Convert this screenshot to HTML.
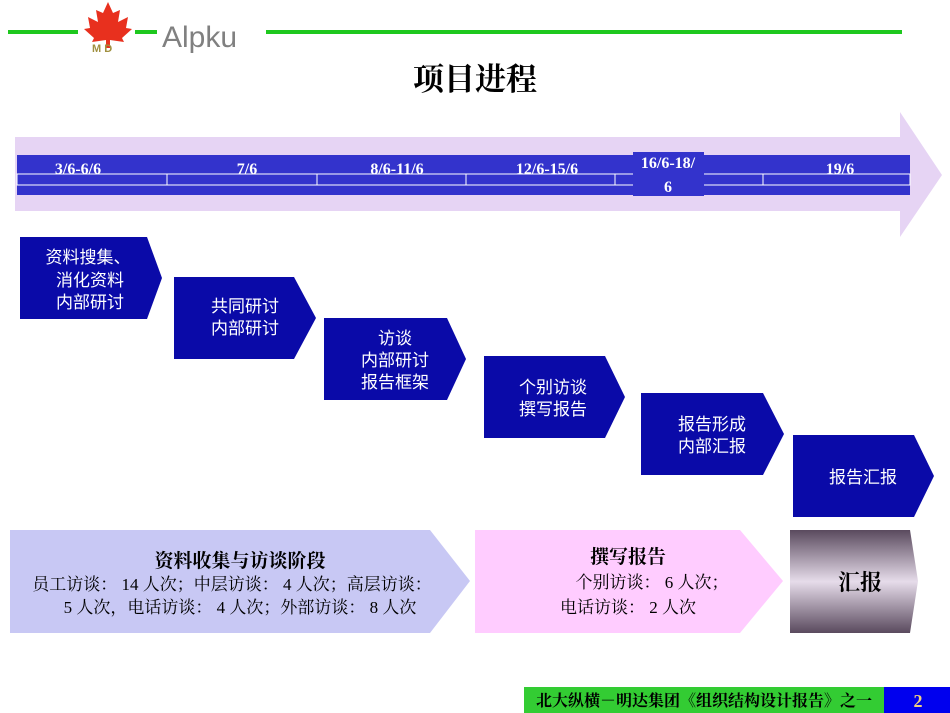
<!DOCTYPE html>
<html><head><meta charset="utf-8"><style>
body{margin:0;background:#fff;}
svg{display:block;font-family:"Liberation Sans","Noto Sans CJK SC",sans-serif;}
</style></head><body>
<svg width="950" height="713" viewBox="0 0 950 713" xmlns="http://www.w3.org/2000/svg">
<defs>
<linearGradient id="g" x1="0" y1="0" x2="0" y2="1">
<stop offset="0" stop-color="#5a4a5e"/><stop offset="0.5" stop-color="#e6dcea"/><stop offset="1" stop-color="#5a4a5e"/>
</linearGradient>
</defs>
<!-- header -->
<rect x="8" y="30" width="70" height="4" fill="#1ec81e"/>
<rect x="135" y="30" width="22" height="4" fill="#1ec81e"/>
<rect x="266" y="30" width="636" height="4" fill="#1ec81e"/>
<polygon points="108,2 113,13 120,10 118,22 128,17 126,28 132,29 122,38 124,42 110,40 110,48 106,48 106,40 92,42 94,38 84,29 90,28 88,17 98,22 96,10 103,13" fill="#e8301e"/>
<text x="92" y="52" font-size="11" fill="#a09040" font-weight="bold">M D</text>
<text x="162" y="47" font-size="30" fill="#808080">Alpku</text>
<text x="475" y="90" font-size="31" text-anchor="middle" font-weight="bold" fill="#000" font-family="Liberation Serif,'Noto Serif CJK SC',serif">项目进程</text>
<!-- timeline arrow -->
<polygon points="15,137 900,137 900,112 942,175 900,237 900,211 15,211" fill="#e6d4f4"/>
<rect x="17" y="155" width="893" height="40" fill="#3333cc"/>
<rect x="17" y="174" width="893" height="11" fill="#3333cc" stroke="#fff" stroke-width="1"/>
<g stroke="#fff" stroke-width="1">
<line x1="167" y1="174" x2="167" y2="185"/><line x1="317" y1="174" x2="317" y2="185"/>
<line x1="466" y1="174" x2="466" y2="185"/><line x1="615" y1="174" x2="615" y2="185"/>
<line x1="763" y1="174" x2="763" y2="185"/>
</g>
<rect x="633" y="152" width="71" height="44" fill="#3333cc"/>
<g fill="#fff" font-family="Liberation Serif,serif" font-weight="bold" font-size="16" text-anchor="middle">
<text x="78" y="174">3/6-6/6</text><text x="247" y="174">7/6</text>
<text x="397" y="174">8/6-11/6</text><text x="547" y="174">12/6-15/6</text>
<text x="668" y="168">16/6-18/</text><text x="668" y="192">6</text>
<text x="840" y="174">19/6</text>
</g>
<!-- chevrons -->
<g fill="#0a0aa8">
<polygon points="20,237 147,237 162,278 147,319 20,319"/>
<polygon points="174,277 294,277 316,318 294,359 174,359"/>
<polygon points="324,318 447,318 466,359 447,400 324,400"/>
<polygon points="484,356 605,356 625,397 605,438 484,438"/>
<polygon points="641,393 763,393 784,434 763,475 641,475"/>
<polygon points="793,435 914,435 934,476 914,517 793,517"/>
</g>
<g fill="#fff" font-size="17" text-anchor="middle">
<text x="88" y="263">资料搜集、</text><text x="90" y="286">消化资料</text><text x="90" y="308">内部研讨</text>
<text x="245" y="312">共同研讨</text><text x="245" y="334">内部研讨</text>
<text x="395" y="344">访谈</text><text x="395" y="366">内部研讨</text><text x="395" y="388">报告框架</text>
<text x="553" y="393">个别访谈</text><text x="553" y="415">撰写报告</text>
<text x="712" y="430">报告形成</text><text x="712" y="452">内部汇报</text>
<text x="863" y="483">报告汇报</text>
</g>
<!-- phases -->
<polygon points="10,530 430,530 470,581 430,633 10,633" fill="#c8c8f4"/>
<polygon points="475,530 740,530 783,581 740,633 475,633" fill="#ffccff"/>
<polygon points="790,530 910,530 918,581 910,633 790,633" fill="url(#g)"/>
<g font-family="Liberation Serif,'Noto Serif CJK SC',serif" fill="#000" text-anchor="middle">
<text x="240" y="567" font-size="19" font-weight="bold">资料收集与访谈阶段</text>
<text x="232" y="590" font-size="17">员工访谈： 14 人次；中层访谈： 4 人次；高层访谈：</text>
<text x="240" y="613" font-size="17">5 人次，电话访谈： 4 人次；外部访谈： 8 人次</text>
<text x="628" y="563" font-size="19" font-weight="bold">撰写报告</text>
<text x="652" y="588" font-size="17">个别访谈： 6 人次；</text>
<text x="628" y="613" font-size="17">电话访谈： 2 人次</text>
<text x="860" y="590" font-size="22" font-weight="bold">汇报</text>
</g>
<!-- footer -->
<rect x="524" y="687" width="360" height="26" fill="#33cc33"/>
<rect x="884" y="687" width="66" height="26" fill="#0000ee"/>
<text x="704" y="706" font-size="16" font-weight="bold" text-anchor="middle" fill="#000" font-family="Liberation Serif,'Noto Serif CJK SC',serif">北大纵横－明达集团《组织结构设计报告》之一</text>
<text x="918" y="707" font-size="18" font-weight="bold" text-anchor="middle" fill="#f0d080" font-family="Liberation Serif,serif">2</text>
</svg>
</body></html>
